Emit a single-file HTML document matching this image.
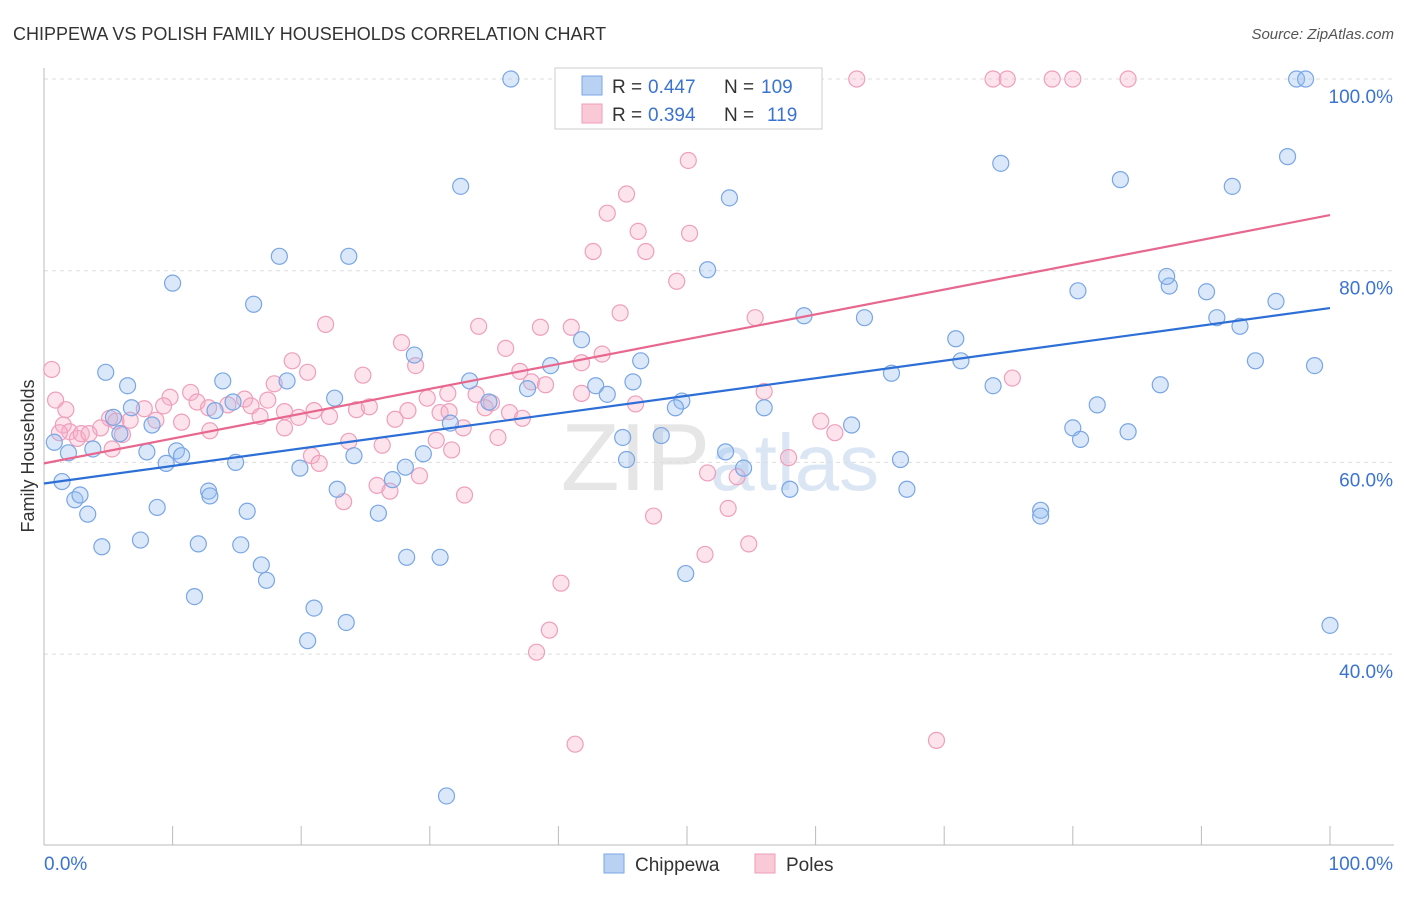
<!DOCTYPE html>
<html><head><meta charset="utf-8"><style>
body{margin:0;background:#fff;font-family:"Liberation Sans",sans-serif;}
svg text{font-family:"Liberation Sans",sans-serif;}
</style></head><body>
<svg id="chart" width="1406" height="892" xmlns="http://www.w3.org/2000/svg">
<text x="13" y="40" font-size="18" fill="#333">CHIPPEWA VS POLISH FAMILY HOUSEHOLDS CORRELATION CHART</text>
<text x="1394" y="39" font-size="15" fill="#555" font-style="italic" text-anchor="end">Source: ZipAtlas.com</text>
<text x="720" y="490" font-size="96" fill="#e6e6e6" text-anchor="middle" font-family="Liberation Serif">ZIP<tspan fill="#dbe6f5" font-family="Liberation Sans" font-size="80">atlas</tspan></text>
<g id="grid"></g>
<g id="marks"></g>
<text transform="translate(34,456) rotate(-90)" font-size="18" fill="#333" text-anchor="middle">Family Households</text>
<g>
<rect x="555" y="68" width="267" height="61" fill="#fff" stroke="#ccc"/>
<rect x="582" y="76" width="20" height="19" fill="#b9d2f4" stroke="#7aa7e6"/>
<rect x="582" y="104" width="20" height="19" fill="#f9c9d8" stroke="#ee9db8"/>
<text x="612" y="93" font-size="19" fill="#333">R =</text>
<text x="648" y="93" font-size="19" fill="#3b73d1">0.447</text>
<text x="724" y="93" font-size="19" fill="#333">N =</text>
<text x="761" y="93" font-size="19" fill="#3b73d1">109</text>
<text x="612" y="121" font-size="19" fill="#333">R =</text>
<text x="648" y="121" font-size="19" fill="#3b73d1">0.394</text>
<text x="724" y="121" font-size="19" fill="#333">N =</text>
<text x="767" y="121" font-size="19" fill="#3b73d1">119</text>
</g>
<g>
<rect x="604" y="854" width="20" height="19" fill="#b9d2f4" stroke="#7aa7e6"/>
<text x="635" y="871" font-size="19" fill="#333">Chippewa</text>
<rect x="755" y="854" width="20" height="19" fill="#f9c9d8" stroke="#ee9db8"/>
<text x="786" y="871" font-size="19" fill="#333">Poles</text>
</g>
</svg>
<script>
const yTicks=[100,80,60,40];
const yTickLabels=["100.0%","80.0%","60.0%","40.0%"];
const xTickVals=[0,10,20,30,40,50,60,70,80,90,100];
const blueX=[36.3,97.4,98.1,96.7,74.4,32.4,83.7,92.4,53.3,18.3,23.7,10.0,51.6,16.3,80.4,87.5,87.3,90.4,59.1,63.8,91.2,93.0,95.8,41.8,70.9,28.8,39.4,46.4,71.3,94.2,98.8,4.8,65.9,6.5,13.9,18.9,33.1,37.6,42.9,43.8,45.8,73.8,86.8,22.6,34.6,49.6,49.1,56.0,81.9,6.8,13.3,14.7,5.4,8.4,31.6,5.9,62.8,80.0,84.3,0.8,48.0,45.0,80.6,1.9,3.8,8.0,10.3,10.7,9.5,14.9,24.1,29.5,19.9,28.1,45.3,53.0,66.6,54.4,1.4,27.1,22.8,58.0,67.1,2.4,2.8,12.8,12.9,8.8,3.4,15.8,26.0,77.5,77.5,7.5,4.5,12.0,15.3,28.2,30.8,16.9,17.3,49.9,11.7,21.0,23.5,20.5,100,31.3];
const blueY=[100,100,100,91.9,91.2,88.8,89.5,88.8,87.6,81.5,81.5,78.7,80.1,76.5,77.9,78.4,79.4,77.8,75.3,75.1,75.1,74.2,76.8,72.8,72.9,71.2,70.1,70.6,70.6,70.6,70.1,69.4,69.3,68.0,68.5,68.5,68.5,67.7,68.0,67.1,68.4,68.0,68.1,66.7,66.3,66.4,65.7,65.7,66.0,65.7,65.4,66.3,64.7,63.9,64.1,63.0,63.9,63.6,63.2,62.1,62.8,62.6,62.4,61.0,61.4,61.1,61.2,60.7,59.9,60.0,60.7,60.9,59.4,59.5,60.3,61.1,60.3,59.4,58.0,58.2,57.2,57.2,57.2,56.1,56.6,57.0,56.5,55.3,54.6,54.9,54.7,55.0,54.4,51.9,51.2,51.5,51.4,50.1,50.1,49.3,47.7,48.4,46.0,44.8,43.3,41.4,43.0,25.2];
const pinkX=[63.2,52.5,73.8,74.9,78.4,80.0,84.3,50.1,45.3,43.8,46.2,50.2,42.7,46.8,49.2,44.8,55.3,21.9,33.8,38.6,41.0,27.8,35.9,43.4,41.8,19.3,20.5,24.8,28.9,0.6,0.9,17.9,11.4,9.8,31.4,33.6,29.8,37.9,37.0,39.0,41.8,46.0,56.0,9.3,11.9,12.8,14.3,15.6,16.1,17.4,7.8,1.7,18.7,21.0,24.3,25.3,28.3,30.8,31.5,34.3,34.8,36.2,37.2,5.1,6.7,8.7,1.5,5.6,10.7,16.8,19.8,22.2,27.3,4.4,6.1,2.0,2.6,2.9,3.5,12.9,18.7,32.6,1.2,23.7,30.5,31.7,35.3,26.3,5.3,20.8,21.4,29.2,25.9,26.9,32.7,23.3,60.4,61.5,57.9,51.6,53.9,53.2,47.4,51.4,54.8,40.2,39.3,38.3,41.3,69.4,75.3];
const pinkY=[100,100,100,100,100,100,100,91.5,88.0,86.0,84.1,83.9,82.0,82.0,78.9,75.6,75.1,74.4,74.2,74.1,74.1,72.5,71.9,71.3,70.4,70.6,69.4,69.1,70.1,69.7,66.5,68.2,67.3,66.8,67.2,67.1,66.7,68.4,69.5,68.1,67.2,66.1,67.4,65.9,66.3,65.7,66.0,66.6,65.9,66.5,65.6,65.5,65.3,65.4,65.5,65.8,65.4,65.2,65.3,65.7,66.2,65.2,64.6,64.6,64.4,64.4,63.9,64.3,64.2,64.8,64.7,64.8,64.5,63.6,62.9,63.2,62.5,63.0,63.0,63.3,63.6,63.6,63.1,62.2,62.3,61.3,62.6,61.8,61.4,60.7,59.9,58.6,57.6,57.0,56.6,55.9,64.3,63.1,60.5,58.9,58.5,55.2,54.4,50.4,51.5,47.4,42.5,40.2,30.6,31.0,68.8];
const blueTrend=[57.8,76.1];
const pinkTrend=[59.9,85.8];
const NS="http://www.w3.org/2000/svg";
const X0=44,X1=1330,YTOP=79,PXPER=9.585;
function sx(v){return X0+(X1-X0)*v/100;}
function sy(v){return YTOP+(100-v)*PXPER;}
function mk(tag,attrs,parent){const e=document.createElementNS(NS,tag);for(const k in attrs)e.setAttribute(k,attrs[k]);parent.appendChild(e);return e;}
const grid=document.getElementById('grid'),marks=document.getElementById('marks');
yTicks.forEach((v,i)=>{
 const l=mk('line',{x1:44,x2:1394,y1:sy(v),y2:sy(v),stroke:'#ddd','stroke-dasharray':'4,4'},grid);
 
 
 const t=mk('text',{x:1393,y:sy(v)+24,'font-size':19,fill:'#3b73d1','text-anchor':'end'},grid);
 t.textContent=yTickLabels[i];
 
 
});
const ax=mk('line',{x1:44,x2:44,y1:68,y2:845,stroke:'#bbb'},grid);


const bx=mk('line',{x1:44,x2:1394,y1:845,y2:845,stroke:'#bbb'},grid);


xTickVals.forEach(v=>{
 const t=mk('line',{x1:sx(v),x2:sx(v),y1:826,y2:845,stroke:'#bbb'},grid);
 
 
});
const xl0=mk('text',{x:44,y:870,'font-size':19,fill:'#3b73d1'},grid);xl0.textContent='0.0%';


const xl1=mk('text',{x:1393,y:870,'font-size':19,fill:'#3b73d1','text-anchor':'end'},grid);xl1.textContent='100.0%';


function pts(xs,ys,fill,stroke,name){
 xs.forEach((x,i)=>{
  const c=mk('circle',{cx:sx(x),cy:sy(ys[i]),r:8,fill:fill,stroke:stroke,'stroke-width':1.2},marks);
  
  
 });
}
pts(pinkX,pinkY,'rgba(246,176,200,0.35)','#ef9fbb','poles-point');
pts(blueX,blueY,'rgba(150,190,240,0.35)','#79a6e4','chippewa-point');
const bl=mk('line',{x1:sx(0),y1:sy(blueTrend[0]),x2:sx(100),y2:sy(blueTrend[1]),stroke:'#2d6fd6','stroke-width':2.2},marks);


const pl=mk('line',{x1:sx(0),y1:sy(pinkTrend[0]),x2:sx(100),y2:sy(pinkTrend[1]),stroke:'#e8678f','stroke-width':2.2},marks);


</script>
</body></html>
